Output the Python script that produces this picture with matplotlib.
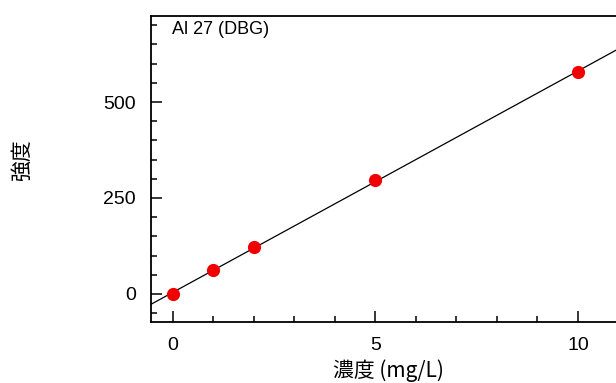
import numpy as np
import matplotlib
matplotlib.use("Agg")
import matplotlib.pyplot as plt
from matplotlib.ticker import MultipleLocator

# Calibration standards for Al 27 (DBG)
concentration = [0, 1, 2, 5, 10]          # mg/L
intensity = [0, 62, 122, 297, 578]        # counts

x_major_ticks = [0, 5, 10]
y_major_ticks = [0, 250, 500]

title_text = "Al 27 (DBG)"
x_label = "濃度 (mg/L)"
y_label = "強度"

plt.rcParams["font.family"] = ["Liberation Sans", "Noto Sans CJK JP", "DejaVu Sans"]

fig = plt.figure(figsize=(6.16, 3.83), dpi=100)
ax = fig.add_axes([151 / 616, 1 - 322 / 383, 1 - 151 / 616, (322 - 16) / 383])

xlim = (-0.54, 10.94)
ylim = (-73, 724)

# Linear calibration fit through the standards
slope, intercept = np.polyfit(concentration, intensity, 1)
xf = np.array(xlim)
ax.plot(xf, slope * xf + intercept, color="black", lw=0.9, zorder=2)

ax.plot(concentration, intensity, "o", color="#f00000", markersize=9.5,
        markeredgewidth=0, zorder=3)

ax.set_xlim(*xlim)
ax.set_ylim(*ylim)

ax.set_xticks(x_major_ticks)
ax.set_yticks(y_major_ticks)
ax.xaxis.set_minor_locator(MultipleLocator(1))
ax.yaxis.set_minor_locator(MultipleLocator(50))
ax.tick_params(which="both", direction="in", top=False, right=False,
               labelsize=14, colors="black")
ax.tick_params(which="major", length=8, width=1.1, pad=11)
ax.tick_params(which="minor", length=4, width=1.1)

for side in ("left", "bottom", "top"):
    ax.spines[side].set_linewidth(1.3)
ax.spines["right"].set_visible(False)

ax.text(0.045, 0.985, title_text, transform=ax.transAxes, ha="left", va="top",
        fontsize=13, family=["Liberation Sans Narrow", "Liberation Sans"])

fig.text(388 / 616, 1 - 371 / 383, x_label, ha="center", va="center",
         fontsize=15, family=["Noto Sans CJK JP", "DejaVu Sans"])
fig.text(22 / 616, 1 - 160 / 383, y_label, ha="center", va="center",
         rotation=90, fontsize=15, family=["Noto Sans CJK JP", "DejaVu Sans"])

fig.savefig("out.png", dpi=100)
